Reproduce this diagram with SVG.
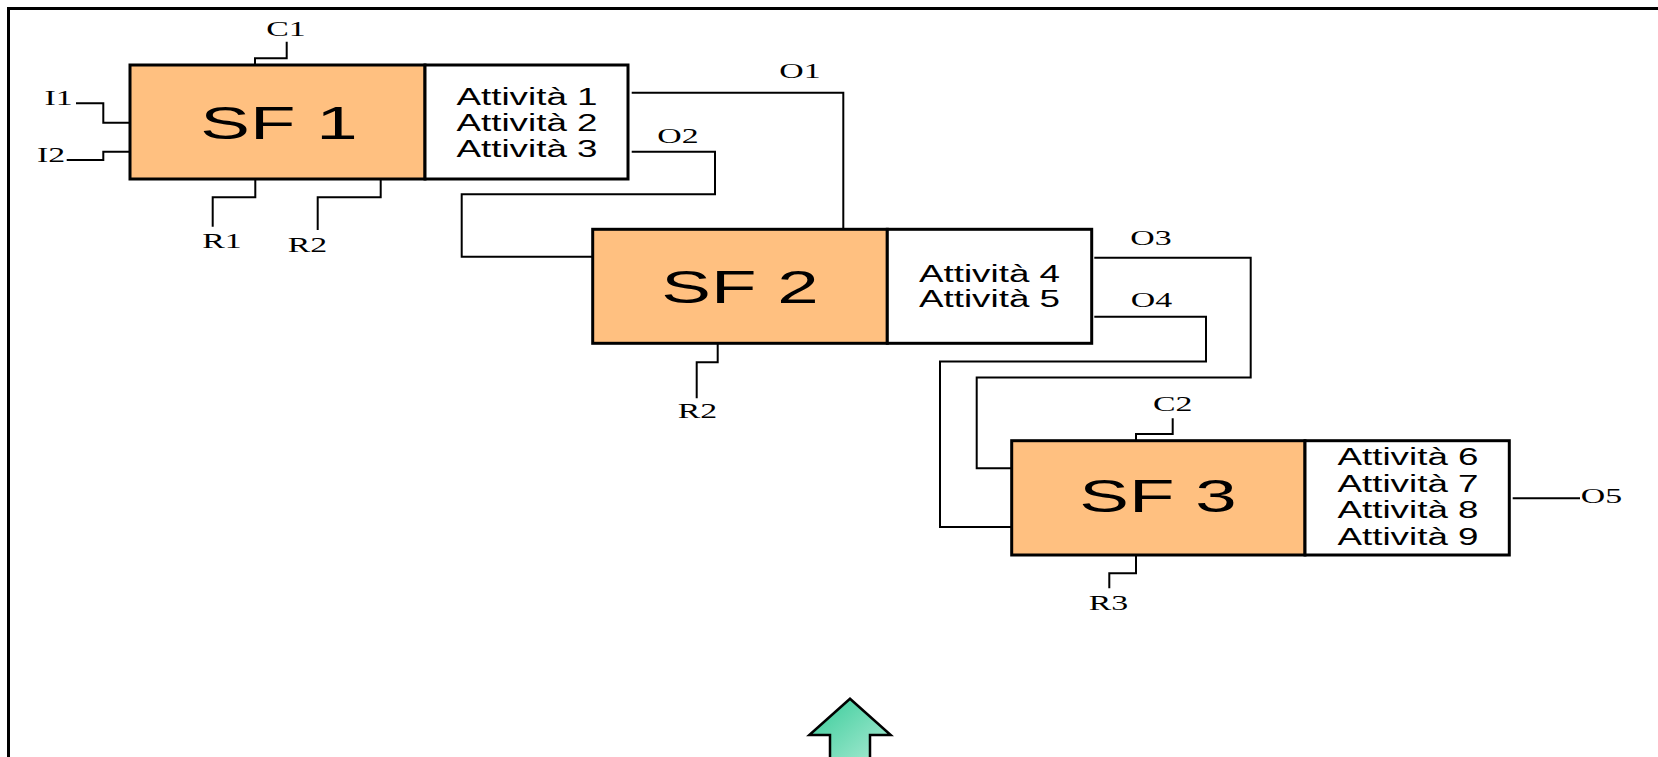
<svg xmlns="http://www.w3.org/2000/svg" width="1658" height="757" viewBox="0 0 1658 757">
  <style>
    .frame { fill: none; stroke: #000; stroke-width: 3; }
    .sf { fill: #FFC080; stroke: #000; stroke-width: 3; }
    .act { fill: #fff; stroke: #000; stroke-width: 3; }
    .wire { fill: none; stroke: #000; stroke-width: 2; }
    .big { font-family: "Liberation Sans", Arial, sans-serif; font-size: 46px; fill: #000; text-anchor: middle; }
    .list { font-family: "Liberation Sans", Arial, sans-serif; font-size: 23px; fill: #000; text-anchor: middle; }
    .lbl { font-family: "Liberation Serif", "Times New Roman", serif; font-size: 20.5px; fill: #000; text-anchor: middle; }
  </style>
  <defs>
    <linearGradient id="arrowFill" x1="0" y1="0" x2="1" y2="1">
      <stop offset="0" stop-color="#35CB98"/>
      <stop offset="1" stop-color="#B4EDD8"/>
    </linearGradient>
  </defs>

  <rect width="1658" height="757" fill="#fff"/>
  <path class="frame" d="M8.5,770 V8.5 H1670"/>

  <!-- flow lines between the functional blocks -->
  <g id="connectors">
    <path class="wire" d="M255,65 V58.3 H286.7 V41.7"/>
    <path class="wire" d="M76,103.3 H103.3 V122.7 H130"/>
    <path class="wire" d="M66.7,160 H103.3 V151.7 H130"/>
    <path class="wire" d="M255.3,179 V197.3 H212.7 V226.7"/>
    <path class="wire" d="M380.7,179 V197.3 H317.7 V230"/>
    <path class="wire" d="M631.7,92.7 H843.3 V229.3"/>
    <path class="wire" d="M631.7,151.7 H715 V194.3 H461.7 V256.7 H592.7"/>
    <path class="wire" d="M717.7,343.3 V362.3 H696.7 V398.3"/>
    <path class="wire" d="M1094.3,257.7 H1250.7 V377.5 H976.7 V468.3 H1011.7"/>
    <path class="wire" d="M1094.3,316.7 H1206 V361.5 H940 V527 H1011.7"/>
    <path class="wire" d="M1136,440.7 V434 H1172.7 V418.3"/>
    <path class="wire" d="M1136,555 V573.3 H1109.3 V588.3"/>
    <path class="wire" d="M1512.7,498.3 H1580"/>

    <text class="lbl" transform="matrix(1.65 0 0 1 286 36)">C1</text>
    <text class="lbl" transform="matrix(1.65 0 0 1 58.5 105)">I1</text>
    <text class="lbl" transform="matrix(1.65 0 0 1 51 161.7)">I2</text>
    <text class="lbl" transform="matrix(1.65 0 0 1 222 248)">R1</text>
    <text class="lbl" transform="matrix(1.65 0 0 1 307.5 251.5)">R2</text>
    <text class="lbl" transform="matrix(1.65 0 0 1 800 78.3)">O1</text>
    <text class="lbl" transform="matrix(1.65 0 0 1 678 143.3)">O2</text>
    <text class="lbl" transform="matrix(1.65 0 0 1 697.5 418)">R2</text>
    <text class="lbl" transform="matrix(1.65 0 0 1 1151 245)">O3</text>
    <text class="lbl" transform="matrix(1.65 0 0 1 1151.5 307.3)">O4</text>
    <text class="lbl" transform="matrix(1.65 0 0 1 1172.7 411)">C2</text>
    <text class="lbl" transform="matrix(1.65 0 0 1 1108.5 609.5)">R3</text>
    <text class="lbl" transform="matrix(1.65 0 0 1 1601.5 503)">O5</text>
  </g>

  <g id="sf1">
    <rect class="sf" x="130" y="65" width="295" height="114"/>
    <rect class="act" x="425" y="65" width="203" height="114"/>
    <text class="big" transform="matrix(1.62 0 0 1 279 139.3)">SF 1</text>
    <text class="list" transform="matrix(1.6 0 0 1 527 105)">Attività 1</text>
    <text class="list" transform="matrix(1.6 0 0 1 527 130.7)">Attività 2</text>
    <text class="list" transform="matrix(1.6 0 0 1 527 156.7)">Attività 3</text>
  </g>

  <g id="sf2">
    <rect class="sf" x="592.7" y="229.3" width="294.6" height="114"/>
    <rect class="act" x="887.3" y="229.3" width="204.4" height="114"/>
    <text class="big" transform="matrix(1.62 0 0 1 740 303.3)">SF 2</text>
    <text class="list" transform="matrix(1.6 0 0 1 989.5 281.7)">Attività 4</text>
    <text class="list" transform="matrix(1.6 0 0 1 989.5 307.3)">Attività 5</text>
  </g>

  <g id="sf3">
    <rect class="sf" x="1011.7" y="440.7" width="293.3" height="114.3"/>
    <rect class="act" x="1305" y="440.7" width="204.3" height="114.3"/>
    <text class="big" transform="matrix(1.62 0 0 1 1158 511.7)">SF 3</text>
    <text class="list" transform="matrix(1.6 0 0 1 1408 465)">Attività 6</text>
    <text class="list" transform="matrix(1.6 0 0 1 1408 491.7)">Attività 7</text>
    <text class="list" transform="matrix(1.6 0 0 1 1408 518.3)">Attività 8</text>
    <text class="list" transform="matrix(1.6 0 0 1 1408 545)">Attività 9</text>
  </g>

  <g id="up-arrow">
    <polygon points="850,698.7 890.7,735 870,735 870,770 830,770 830,735 809.3,735" fill="url(#arrowFill)" stroke="#000" stroke-width="2.5" stroke-linejoin="miter"/>
  </g>
</svg>
